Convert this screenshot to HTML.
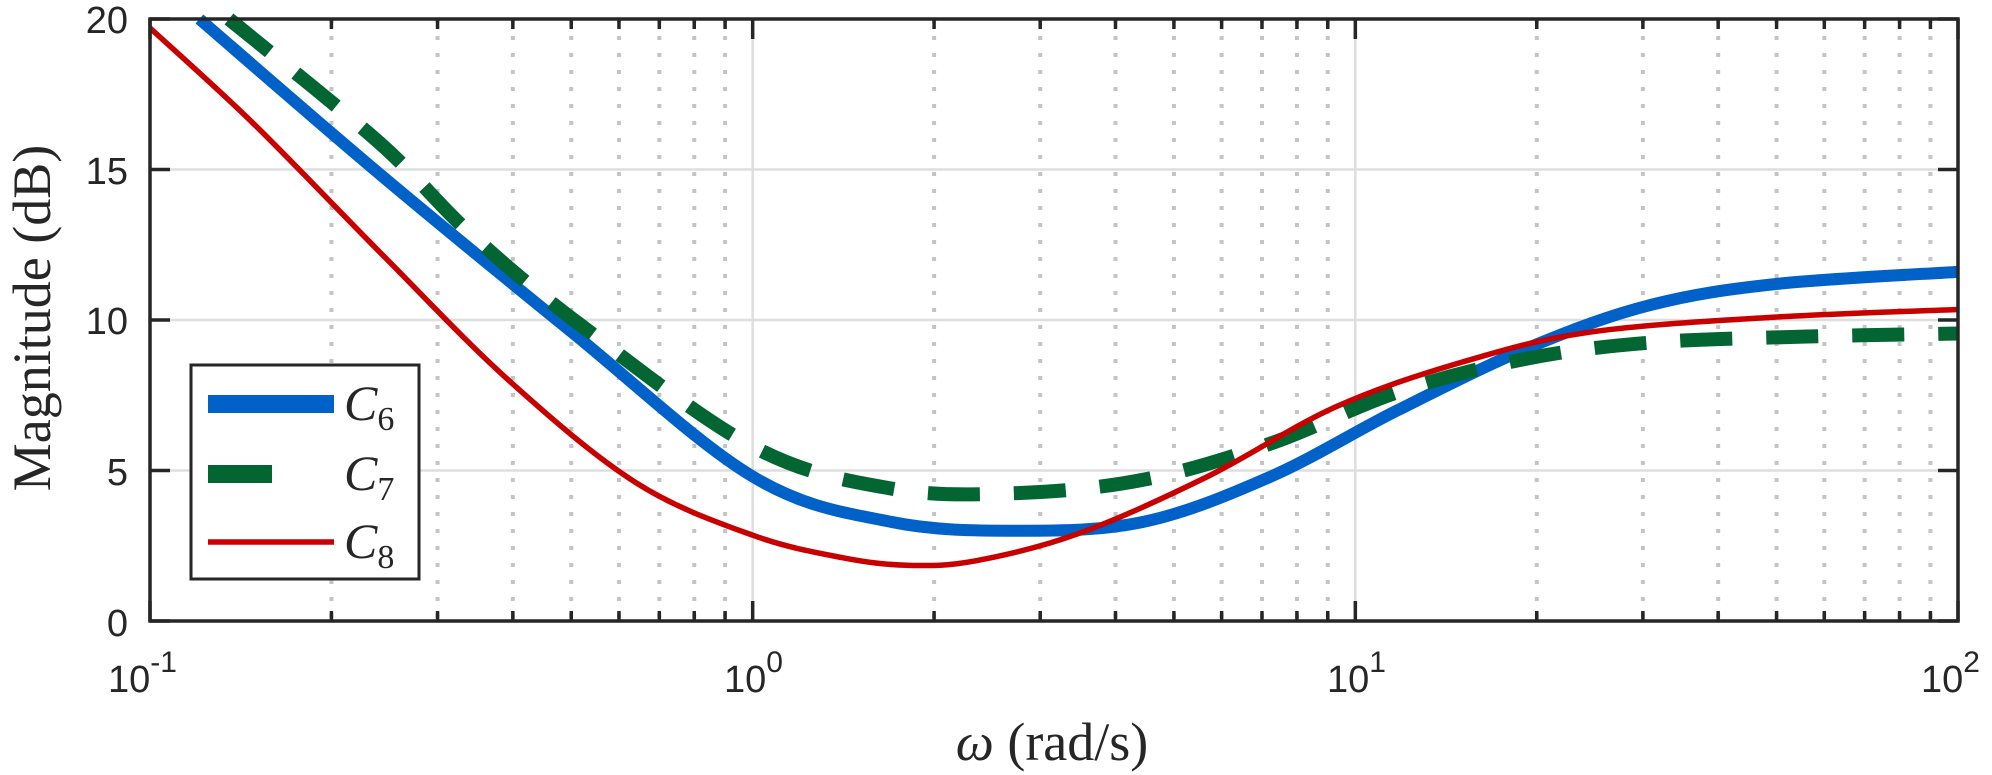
<!DOCTYPE html>
<html><head><meta charset="utf-8"><style>
html,body{margin:0;padding:0;background:#fff;}
svg{display:block;}
.t{font-family:"Liberation Sans",sans-serif;font-size:38px;fill:#262626;}
.s{font-family:"Liberation Serif",serif;fill:#262626;}
</style></head><body>
<svg id="g" width="1992" height="775" viewBox="0 0 1992 775" xmlns="http://www.w3.org/2000/svg">
<rect width="1992" height="775" fill="#fff"/>
<g id="grid"></g>
<path id="c6" fill="none" stroke="#0062C8" stroke-width="12" stroke-linejoin="round"/>
<path id="c7" fill="none" stroke="#036531" stroke-width="14" stroke-dasharray="52 34"/>
<path id="c8" fill="none" stroke="#C80000" stroke-width="5.5" stroke-linejoin="round"/>
<rect x="150" y="19" width="1808" height="602" fill="none" stroke="#262626" stroke-width="3.5"/>
<g id="ticks"></g>
<text class="t" x="128" y="33" text-anchor="end">20</text>
<text class="t" x="128" y="184" text-anchor="end">15</text>
<text class="t" x="128" y="334" text-anchor="end">10</text>
<text class="t" x="128" y="485" text-anchor="end">5</text>
<text class="t" x="128" y="636" text-anchor="end">0</text>
<text class="t" x="108" y="692">10<tspan dy="-20" font-size="30">-1</tspan></text>
<text class="t" x="724" y="692">10<tspan dy="-20" font-size="30">0</tspan></text>
<text class="t" x="1327" y="692">10<tspan dy="-20" font-size="30">1</tspan></text>
<text class="t" x="1921" y="692">10<tspan dy="-20" font-size="30">2</tspan></text>
<text class="s" x="1052" y="760" font-size="54" text-anchor="middle"><tspan font-style="italic">ω</tspan> (rad/s)</text>
<text class="s" font-size="54" text-anchor="middle" transform="translate(50,318) rotate(-90)">Magnitude (dB)</text>
<rect x="191" y="365" width="228" height="214" fill="#fff" stroke="#262626" stroke-width="3"/>
<line x1="208" y1="404" x2="334" y2="404" stroke="#0062C8" stroke-width="18"/>
<line x1="208" y1="474" x2="272" y2="474" stroke="#036531" stroke-width="18"/>
<line x1="208" y1="542" x2="334" y2="542" stroke="#C80000" stroke-width="5.5"/>
<text class="s" x="344" y="420" font-size="50" font-style="italic">C<tspan font-size="34" dy="10" font-style="normal">6</tspan></text>
<text class="s" x="344" y="490" font-size="50" font-style="italic">C<tspan font-size="34" dy="10" font-style="normal">7</tspan></text>
<text class="s" x="344" y="558" font-size="50" font-style="italic">C<tspan font-size="34" dy="10" font-style="normal">8</tspan></text>
</svg>
<script>
var L=150,R=1958,T=19,B=621,NS="http://www.w3.org/2000/svg";
function X(l){return L+(l+1)*(R-L)/3;}
function Y(d){return B-d*(B-T)/20;}
var grid=document.getElementById('grid'),ticks=document.getElementById('ticks');
function ln(p,x1,y1,x2,y2,st,w,da){var e=document.createElementNS(NS,'line');e.setAttribute('x1',x1);e.setAttribute('y1',y1);e.setAttribute('x2',x2);e.setAttribute('y2',y2);e.setAttribute('stroke',st);e.setAttribute('stroke-width',w);if(da)e.setAttribute('stroke-dasharray',da);p.appendChild(e);}
for(var d=5;d<=15;d+=5){ln(grid,L,Y(d),R,Y(d),'#dedede',2.5);}
for(var dec=-1;dec<2;dec++){for(var k=1;k<10;k++){var x=X(dec+Math.log10(k));if(k==1){if(dec>-1)ln(grid,x,T,x,B,'#dedede',2.5);}else ln(grid,x,T,x,B,'#c4c4c4',4,'4 13');}}
for(var d=0;d<=20;d+=5){ln(ticks,L,Y(d),L+20,Y(d),'#262626',3.5);ln(ticks,R,Y(d),R-20,Y(d),'#262626',3.5);}
for(var dec=-1;dec<=2;dec++){for(var k=1;k<10;k++){if(dec==2&&k>1)break;var x=X(dec+Math.log10(k));var len=k==1?20:10;ln(ticks,x,B,x,B-len,'#262626',3.5);ln(ticks,x,T,x,T+len,'#262626',3.5);}}
function path(pts){var p=pts.map(function(a){return [X(a[0]),Y(a[1])];});var d='M'+p[0][0]+','+p[0][1];
for(var i=0;i<p.length-1;i++){var p0=p[i-1]||p[i],p1=p[i],p2=p[i+1],p3=p[i+2]||p2;
d+=' C'+(p1[0]+(p2[0]-p0[0])/6)+','+(p1[1]+(p2[1]-p0[1])/6)+' '+(p2[0]-(p3[0]-p1[0])/6)+','+(p2[1]-(p3[1]-p1[1])/6)+' '+p2[0]+','+p2[1];}return d;}
document.getElementById('c6').setAttribute('d',path([[-0.918,20],[-0.616,14.8],[-0.30,9.6],[0,4.8],[0.228,3.3],[0.44,3.0],[0.65,3.3],[0.86,4.8],[1.07,7.0],[1.29,9.1],[1.49,10.5],[1.70,11.2],[2,11.6]]));
document.getElementById('c7').setAttribute('d',path([[-0.869,20],[-0.62,15.9],[-0.47,12.9],[-0.29,9.9],[0,5.8],[0.23,4.4],[0.44,4.25],[0.65,4.7],[0.86,5.9],[1.07,7.6],[1.28,8.7],[1.49,9.25],[1.75,9.45],[2,9.55]]));
document.getElementById('c8').setAttribute('d',path([[-1,19.7],[-0.827,16.5],[-0.616,12.2],[-0.405,8.0],[-0.194,4.6],[0,2.85],[0.15,2.1],[0.26,1.85],[0.37,2.0],[0.54,2.9],[0.755,4.8],[0.966,7.1],[1.177,8.6],[1.39,9.6],[1.70,10.1],[2,10.35]]));
</script>
</body></html>
